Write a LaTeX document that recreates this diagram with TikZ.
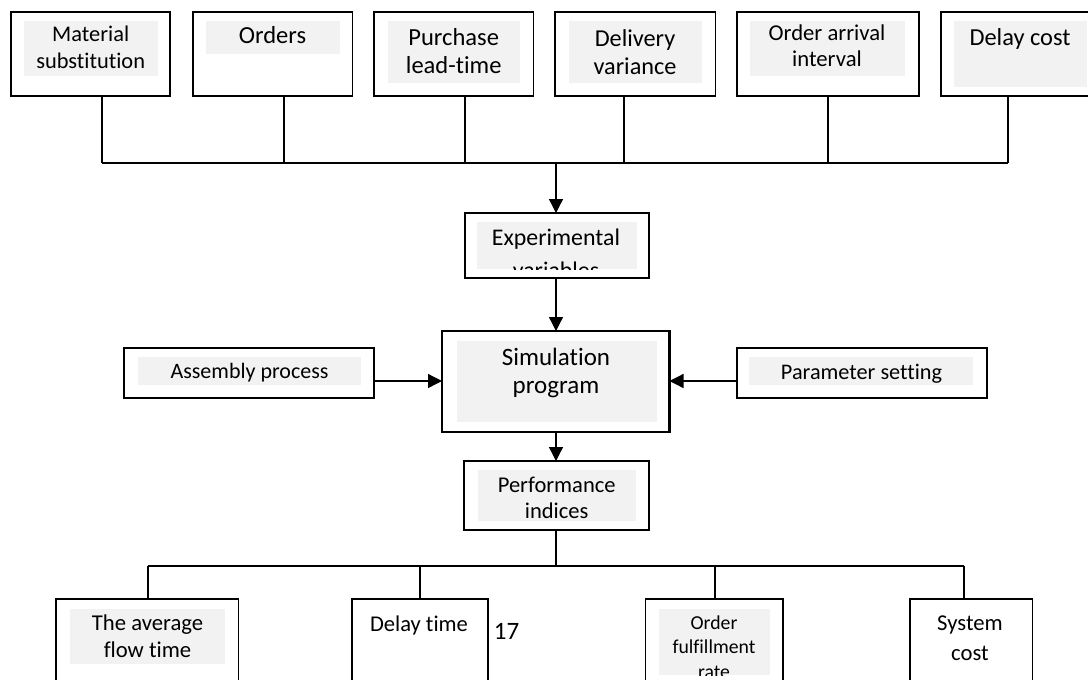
\documentclass[tikz,border=0pt]{standalone}
\usepackage{fontspec}
\setmainfont{Carlito}[Ligatures={TeX,NoCommon}]
\usetikzlibrary{arrows.meta,fit}
\newcommand\fsz[2]{\fontsize{#1}{#2}\selectfont}
\definecolor{gbg}{RGB}{242,242,242}
\begin{document}
\begin{tikzpicture}[x=0.75pt,y=-0.75pt,
  box/.style={draw, line width=1.2pt, fill=white, inner sep=0pt, outer sep=0pt},
  simbox/.style={box, line width=2pt},
  conn/.style={line width=1pt},
  arr/.style={conn, -{Triangle[length=10.5pt,width=10.5pt]}},
  txt/.style={inner sep=0pt, align=center, text=black},
  grayfill/.style={fill=gbg}]
\useasboundingbox (0,0) rectangle (1088,679);
\clip (0,0) rectangle (1088,679);
\fill[white] (0,0) rectangle (1088,679);

% ---- top row boxes
\node[box, fit={(10.7,12) (170,96)}] (b1) {};
\node[box, fit={(193,12) (352.5,96)}] (b2) {};
\node[box, fit={(374,12) (533.6,96)}] (b3) {};
\node[box, fit={(555,12) (715.5,96)}] (b4) {};
\node[box, fit={(737,12) (919,96)}] (b5) {};
\node[box, fit={(941,12) (1100,96)}] (b6) {};
\fill[grayfill] (24,21) rectangle (157.5,76);
\fill[grayfill] (206,21) rectangle (340,54);
\fill[grayfill] (387.5,21) rectangle (520,83);
\fill[grayfill] (569,21) rectangle (701.5,83);
\fill[grayfill] (750,21) rectangle (904.6,76);
\fill[grayfill] (954,21) rectangle (1087,87);
\node[txt, font=\fsz{16.8}{20}] (t1) at (90.7,49.7) {\strut Material\\\strut substitution};
\node[txt, font=\fsz{18.4}{22}] (t2) at (272.5,38.1) {\strut Orders};
\node[txt, font=\fsz{18.4}{21}] (t3) at (453.7,53.4) {\strut Purchase\\\strut lead-time};
\node[txt, font=\fsz{18.2}{21}] (t4) at (635,55.1) {\strut Delivery\\\strut variance};
\node[txt, font=\fsz{17}{20}] (t5) at (827,48) {\strut Order arrival\\\strut interval};
\node[txt, font=\fsz{18.3}{21.75}] (t6) at (1020,39.2) {\strut Delay cost};

% ---- top bus
\coordinate (x1) at (102,163);
\coordinate (x2) at (284,163);
\coordinate (x3) at (465,163);
\coordinate (x4) at (624,163);
\coordinate (x5) at (828,163);
\coordinate (x6) at (1008,163);
\draw[conn] (b1.south -| x1) -- (x1);
\draw[conn] (b2.south -| x2) -- (x2);
\draw[conn] (b3.south -| x3) -- (x3);
\draw[conn] (b4.south -| x4) -- (x4);
\draw[conn] (b5.south -| x5) -- (x5);
\draw[conn] (b6.south -| x6) -- (x6);
\draw[conn] (x1) -- (x6);

% ---- experimental variables
\node[box, fit={(465,213) (649,278)}] (exp) {};
\fill[grayfill] (477,222) rectangle (637,269);
\begin{scope}
\clip (477,222) rectangle (637,269);
\node[txt, font=\fsz{17.9}{24.75}] (t7) at (556,255.6) {\strut Experimental\\\strut variables};
\end{scope}
\coordinate (xa) at (556,163);
\draw[arr] (xa) -- (xa |- exp.north);

% ---- simulation program and side boxes
\node[simbox, fit={(442,331) (669.5,432)}] (sim) {};
\fill[grayfill] (457,341) rectangle (657,422);
\node[txt, font=\fsz{18.75}{21}] (t8) at (556,373.4) {\strut Simulation\\\strut program};
\draw[arr] (xa |- exp.south) -- (xa |- sim.north);

\node[box, fit={(124,348) (374,398)}] (asm) {};
\fill[grayfill] (138,357) rectangle (361,385);
\node[txt, font=\fsz{16.5}{19.8}] (t9) at (249.5,373) {\strut Assembly process};

\node[box, fit={(737,348) (987,398)}] (par) {};
\fill[grayfill] (749,357) rectangle (973,385);
\node[txt, font=\fsz{16.7}{20}] (t10) at (861.5,374) {\strut Parameter setting};

\coordinate (ay) at (0,381);
\draw[arr] (asm.east |- ay) -- (sim.west |- ay);
\draw[arr] (par.west |- ay) -- (sim.east |- ay);

% ---- performance indices
\node[box, fit={(464,461) (649,530)}] (perf) {};
\fill[grayfill] (478,470) rectangle (636,521);
\node[txt, font=\fsz{16.9}{19.1}] (t11) at (556.7,500.3) {\strut Performance\\\strut indices};
\draw[arr] (xa |- sim.south) -- (xa |- perf.north);

% ---- bottom bus
\coordinate (y1) at (148,566);
\coordinate (y2) at (420,566);
\coordinate (y3) at (715,566);
\coordinate (y4) at (964,566);
\draw[conn] (xa |- perf.south) -- (xa |- y1);
\draw[conn] (y1) -- (y4);

% ---- bottom boxes
\node[box, fit={(56,599) (238.6,700)}] (o1) {};
\node[box, fit={(352,599) (488,700)}] (o2) {};
\node[box, fit={(645.5,599) (783,700)}] (o3) {};
\node[box, fit={(910,599) (1032.5,700)}] (o4) {};
\draw[conn] (y1) -- (y1 |- o1.north);
\draw[conn] (y2) -- (y2 |- o2.north);
\draw[conn] (y3) -- (y3 |- o3.north);
\draw[conn] (y4) -- (y4 |- o4.north);
\fill[grayfill] (70,609) rectangle (225,664);
\fill[grayfill] (659,609) rectangle (770,675);
\node[txt, font=\fsz{17}{20.25}] (t12) at (147.5,638.1) {\strut The average\\\strut flow time};
\node[txt, font=\fsz{16.9}{20.25}] (t13) at (419,626.3) {\strut Delay time};
\begin{scope}
\clip (659,609) rectangle (770,675);
\node[txt, font=\fsz{14.8}{18.4}] (t14) at (714,648.9) {\strut Order\\\strut fulfillment\\\strut rate};
\end{scope}
\node[txt, font=\fsz{17}{22.5}] (t15) at (970,639) {\strut System\\\strut cost};
\node[txt, font=\fsz{18.75}{22.5}] (t16) at (506.5,633) {\strut 17};
\end{tikzpicture}
\end{document}
